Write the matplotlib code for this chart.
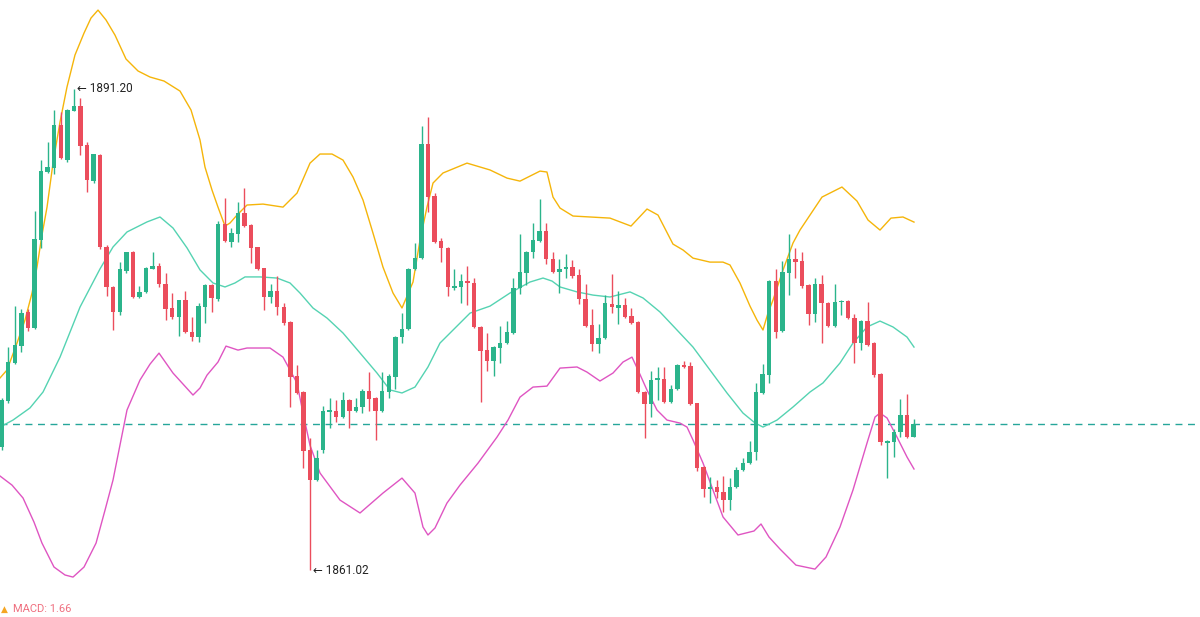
import matplotlib
matplotlib.use("Agg")
import matplotlib.pyplot as plt
import numpy as np

# ---------------- data ----------------
opens = [1868.74, 1871.63, 1874.01, 1875.07, 1877.21, 1876.20, 1881.73, 1885.99, 1886.24, 1888.94,
         1886.75, 1889.82, 1890.13, 1887.69, 1885.43, 1887.06, 1881.29, 1878.78, 1877.21, 1879.79,
         1880.98, 1878.15, 1878.47, 1879.91, 1880.10, 1878.97, 1877.46, 1876.89, 1877.96, 1875.95,
         1875.64, 1877.52, 1878.91, 1878.02, 1882.73, 1881.60, 1882.10, 1883.42, 1882.67, 1881.29,
         1879.97, 1878.15, 1878.52, 1877.52, 1876.58, 1873.19, 1872.19, 1868.55, 1866.67, 1868.55,
         1870.94, 1871.00, 1870.62, 1871.69, 1871.00, 1871.25, 1872.26, 1871.82, 1871.00, 1872.19,
         1873.13, 1875.64, 1876.14, 1879.91, 1880.60, 1887.75, 1884.49, 1881.67, 1881.23, 1878.71,
         1878.78, 1879.15, 1879.03, 1876.27, 1874.82, 1874.13, 1874.95, 1875.26, 1875.89, 1878.71,
         1879.66, 1880.98, 1881.67, 1882.29, 1880.54, 1879.72, 1879.91, 1880.04, 1879.53, 1878.02,
         1876.39, 1875.20, 1875.57, 1877.71, 1877.46, 1877.65, 1876.96, 1876.58, 1872.19, 1871.44,
         1872.95, 1873.01, 1871.56, 1872.38, 1873.88, 1873.82, 1871.50, 1867.48, 1866.10, 1866.23,
         1865.92, 1865.42, 1866.23, 1867.29, 1867.73, 1868.42, 1872.13, 1873.26, 1879.15, 1876.02,
         1879.66, 1880.54, 1880.41, 1878.91, 1877.08, 1878.97, 1877.77, 1876.33, 1877.83, 1877.90,
         1876.83, 1875.26, 1876.64, 1875.26, 1873.32, 1868.99, 1869.05, 1869.68, 1870.75, 1869.37]

highs = [1871.82, 1875.01, 1877.58, 1877.40, 1877.40, 1883.55, 1886.75, 1887.88, 1889.88, 1889.76,
         1889.95, 1891.20, 1890.63, 1887.88, 1887.15, 1887.12, 1881.42, 1878.84, 1880.35, 1881.00,
         1881.04, 1878.84, 1880.04, 1880.98, 1880.29, 1879.66, 1878.40, 1877.98, 1878.52, 1876.89,
         1877.77, 1878.97, 1878.97, 1882.92, 1884.37, 1882.48, 1884.11, 1884.99, 1882.73, 1881.29,
         1879.97, 1878.97, 1879.47, 1877.77, 1876.64, 1873.88, 1872.26, 1869.30, 1868.55, 1871.31,
         1871.82, 1871.69, 1872.19, 1871.75, 1871.82, 1872.38, 1873.44, 1871.88, 1873.44, 1873.32,
         1875.70, 1877.14, 1879.97, 1881.54, 1888.88, 1889.44, 1884.68, 1881.85, 1881.29, 1879.91,
         1879.60, 1880.10, 1879.34, 1876.33, 1875.89, 1875.07, 1876.33, 1876.64, 1879.34, 1882.10,
         1881.04, 1882.79, 1884.30, 1882.79, 1880.98, 1880.54, 1880.85, 1880.48, 1879.91, 1878.97,
         1877.40, 1876.46, 1878.27, 1879.60, 1878.52, 1878.09, 1877.46, 1876.64, 1872.26, 1873.51,
         1873.76, 1873.76, 1872.63, 1873.95, 1874.13, 1874.07, 1871.50, 1867.54, 1866.86, 1866.67,
         1866.92, 1866.80, 1867.48, 1868.05, 1869.11, 1872.76, 1873.95, 1879.22, 1879.91, 1880.41,
         1882.10, 1881.23, 1880.98, 1878.97, 1879.34, 1879.53, 1877.83, 1878.97, 1877.96, 1877.96,
         1877.08, 1876.71, 1877.83, 1875.32, 1873.38, 1869.18, 1869.87, 1871.75, 1872.07, 1870.50]

lows = [1868.55, 1871.50, 1873.95, 1874.70, 1876.02, 1876.14, 1881.23, 1885.93, 1885.87, 1886.81,
        1886.62, 1889.80, 1887.06, 1884.74, 1885.30, 1881.17, 1878.21, 1876.08, 1877.02, 1879.66,
        1878.09, 1878.09, 1878.40, 1879.88, 1878.78, 1876.71, 1876.77, 1875.70, 1875.89, 1875.39,
        1875.32, 1876.52, 1877.21, 1877.90, 1881.60, 1881.29, 1881.60, 1882.54, 1880.29, 1879.85,
        1877.33, 1877.77, 1877.02, 1876.39, 1871.25, 1872.07, 1867.42, 1861.02, 1866.61, 1868.36,
        1869.93, 1870.31, 1870.56, 1869.93, 1870.94, 1870.87, 1871.00, 1869.18, 1870.94, 1871.82,
        1872.38, 1875.26, 1876.08, 1879.85, 1880.54, 1883.49, 1881.54, 1880.35, 1878.21, 1878.59,
        1877.77, 1877.65, 1876.20, 1871.56, 1873.51, 1873.19, 1874.01, 1875.20, 1875.82, 1878.34,
        1878.91, 1880.60, 1881.60, 1880.23, 1879.66, 1878.40, 1879.34, 1879.34, 1877.71, 1876.27,
        1874.76, 1874.64, 1875.51, 1877.14, 1876.46, 1876.83, 1876.46, 1872.13, 1869.30, 1870.62,
        1871.69, 1871.50, 1871.50, 1872.32, 1873.70, 1871.37, 1867.23, 1865.60, 1865.23, 1865.54,
        1864.67, 1864.79, 1866.17, 1867.23, 1867.67, 1867.92, 1872.07, 1872.76, 1875.57, 1875.95,
        1878.27, 1879.34, 1878.71, 1876.39, 1876.58, 1875.26, 1876.27, 1876.27, 1877.02, 1876.77,
        1874.01, 1874.82, 1875.07, 1873.13, 1868.86, 1866.80, 1868.11, 1869.37, 1869.30, 1869.37]

closes = [1871.69, 1874.07, 1875.14, 1877.14, 1876.20, 1881.79, 1886.06, 1886.31, 1888.94, 1886.87,
          1889.88, 1890.13, 1887.62, 1885.49, 1887.12, 1881.29, 1878.78, 1877.21, 1879.91, 1880.98,
          1878.15, 1878.47, 1879.97, 1880.10, 1878.97, 1877.40, 1876.89, 1877.96, 1875.95, 1875.64,
          1877.58, 1878.91, 1878.09, 1882.73, 1881.67, 1882.17, 1883.42, 1882.61, 1881.23, 1879.91,
          1878.15, 1878.52, 1877.52, 1876.52, 1873.13, 1872.13, 1868.49, 1866.67, 1868.05, 1871.00,
          1871.06, 1870.62, 1871.69, 1871.00, 1871.25, 1872.26, 1871.75, 1871.00, 1872.26, 1873.19,
          1875.64, 1876.14, 1879.91, 1880.60, 1887.75, 1884.43, 1881.60, 1881.23, 1878.78, 1878.84,
          1879.15, 1879.03, 1876.27, 1874.76, 1874.13, 1875.01, 1875.26, 1875.95, 1878.71, 1879.72,
          1880.98, 1881.73, 1882.29, 1880.54, 1879.72, 1879.91, 1880.04, 1879.47, 1878.02, 1876.33,
          1875.20, 1875.57, 1877.77, 1877.52, 1877.65, 1876.89, 1876.52, 1872.19, 1871.44, 1872.95,
          1873.07, 1871.56, 1872.38, 1873.88, 1873.76, 1871.44, 1867.42, 1866.10, 1866.23, 1865.92,
          1865.42, 1866.23, 1867.29, 1867.73, 1868.42, 1872.19, 1873.32, 1879.15, 1875.95, 1879.72,
          1880.54, 1880.35, 1878.84, 1877.08, 1878.97, 1877.77, 1876.33, 1877.83, 1877.90, 1876.83,
          1875.26, 1876.64, 1875.14, 1873.26, 1869.05, 1869.11, 1869.68, 1870.75, 1869.37, 1870.18]

# Bollinger bands (bar-index position, price)
upper_x = [-0.26, 0.81, 2.33, 3.55, 4.62, 5.38, 6.14, 6.91, 7.82, 8.89, 9.95, 11.17, 12.55, 13.61, 14.68,
           15.90, 17.27, 18.95, 20.78, 22.61, 24.74, 27.18, 28.86, 30.23, 30.99, 32.06, 32.97, 34.04,
           34.80, 35.87, 37.39, 39.83, 42.88, 45.02, 47.00, 48.52, 50.35, 52.03, 53.55, 55.08, 56.60,
           58.12, 59.65, 61.02, 62.70, 63.77, 64.83, 65.75, 67.27, 70.93, 74.44, 77.03, 79.01, 82.06,
           83.12, 84.04, 85.11, 87.09, 92.73, 95.93, 98.37, 100.05, 102.33, 103.86, 105.38, 107.97,
           109.95, 111.02, 112.54, 114.07, 115.14, 116.05, 116.81, 117.58, 119.10, 120.63, 121.69,
           125.05, 128.09, 130.38, 132.06, 133.89, 135.56, 137.39, 139.07]
upper_v = [1873.07, 1873.57, 1875.26, 1876.70, 1878.40, 1880.03, 1882.04, 1883.79, 1886.55, 1889.13,
           1891.32, 1893.33, 1894.71, 1895.65, 1896.15, 1895.53, 1894.58, 1893.08, 1892.33, 1891.95,
           1891.70, 1891.07, 1889.88, 1888.00, 1886.30, 1884.86, 1883.79, 1882.60, 1882.79, 1883.29,
           1883.92, 1883.98, 1883.79, 1884.67, 1886.55, 1887.12, 1887.12, 1886.74, 1885.68, 1884.23,
           1882.16, 1880.03, 1878.40, 1877.46, 1879.09, 1881.72, 1883.79, 1885.30, 1885.93, 1886.55,
           1886.12, 1885.61, 1885.42, 1886.05, 1885.99, 1884.42, 1883.73, 1883.23, 1883.10, 1882.60,
           1883.67, 1883.29, 1881.47, 1881.10, 1880.59, 1880.34, 1880.34, 1880.16, 1879.03, 1877.58,
           1876.70, 1876.08, 1877.14, 1877.96, 1879.84, 1881.54, 1882.35, 1884.42, 1885.05, 1884.17,
           1882.98, 1882.35, 1883.10, 1883.17, 1882.85]

middle_x = [-0.26, 1.72, 4.31, 6.30, 8.89, 11.94, 14.98, 16.97, 19.10, 22.15, 24.13, 26.11, 28.25,
            30.23, 32.21, 34.04, 35.56, 37.09, 39.38, 41.97, 43.95, 45.47, 47.45, 49.59, 52.03, 54.62,
            57.21, 59.19, 61.02, 63.00, 64.98, 66.81, 69.10, 71.39, 74.44, 77.48, 80.53, 82.52, 83.89,
            85.11, 87.70, 90.14, 92.73, 95.78, 97.76, 100.35, 102.94, 105.38, 107.97, 110.56, 113.00,
            114.83, 116.05, 118.19, 120.63, 123.22, 125.20, 127.79, 129.77, 131.91, 133.89, 135.87,
            138.00, 139.07]
middle_v = [1869.99, 1870.43, 1871.19, 1872.19, 1874.38, 1877.52, 1879.91, 1881.29, 1882.23, 1882.86,
            1883.17, 1882.48, 1881.23, 1879.85, 1879.03, 1878.78, 1879.03, 1879.41, 1879.41, 1879.34,
            1879.03, 1878.40, 1877.46, 1876.83, 1875.89, 1874.64, 1873.38, 1872.32, 1872.13, 1872.50,
            1873.76, 1875.26, 1876.20, 1877.14, 1877.58, 1878.40, 1879.09, 1879.34, 1879.15, 1878.78,
            1878.47, 1878.27, 1878.15, 1878.47, 1878.09, 1877.21, 1876.08, 1875.01, 1873.57, 1872.13,
            1870.87, 1870.25, 1869.99, 1870.43, 1871.25, 1872.19, 1872.76, 1874.01, 1875.26, 1876.27,
            1876.64, 1876.27, 1875.64, 1875.01]

lower_x = [-0.26, 1.57, 3.25, 4.92, 6.14, 7.97, 9.65, 10.87, 12.55, 14.38, 15.75, 16.97, 18.03, 19.10,
           21.08, 22.61, 23.98, 26.11, 29.16, 30.23, 31.30, 32.97, 34.19, 36.02, 37.39, 40.90, 42.88,
           43.95, 45.02, 45.93, 46.99, 48.52, 51.57, 54.62, 58.12, 61.02, 63.00, 64.22, 64.98, 66.05,
           67.87, 69.86, 72.61, 75.50, 77.18, 79.01, 80.99, 83.12, 85.11, 87.70, 89.22, 91.20, 93.19,
           94.71, 96.08, 97.00, 98.37, 99.89, 101.42, 103.40, 104.47, 105.38, 106.91, 108.43, 109.96,
           112.24, 114.68, 115.75, 116.97, 118.64, 121.08, 123.98, 125.66, 127.79, 129.77, 131.91,
           133.13, 133.89, 134.96, 136.48, 138.01, 139.07]
lower_v = [1866.92, 1866.35, 1865.54, 1864.03, 1862.71, 1861.21, 1860.71, 1860.58, 1861.21, 1862.71,
           1864.78, 1866.67, 1868.86, 1871.06, 1872.94, 1873.94, 1874.63, 1873.38, 1872.00, 1872.44,
           1873.25, 1874.07, 1875.07, 1874.82, 1874.95, 1874.95, 1874.38, 1873.57, 1872.75, 1870.87,
           1868.86, 1867.11, 1865.41, 1864.60, 1865.85, 1866.79, 1865.85, 1863.72, 1863.22, 1863.66,
           1865.22, 1866.35, 1867.73, 1869.36, 1870.43, 1871.87, 1872.50, 1872.56, 1873.69, 1873.76,
           1873.44, 1872.88, 1873.38, 1874.07, 1874.38, 1873.57, 1872.31, 1871.06, 1870.43, 1870.24,
           1869.99, 1869.18, 1867.73, 1866.04, 1864.35, 1863.22, 1863.47, 1863.91, 1863.09, 1862.34,
           1861.33, 1861.08, 1861.84, 1863.72, 1866.04, 1868.99, 1870.62, 1870.87, 1870.56, 1869.36,
           1868.11, 1867.36]

high_label = "\u2190 1891.20"
low_label = "\u2190 1861.02"
macd_label = "MACD: 1.66"

# ---------------- style ----------------
UP = "#2bb48b"
DOWN = "#eb4d5c"
C_UPPER = "#f5b50a"
C_MID = "#55d3b2"
C_LOW = "#df55c2"
C_LAST = "#26a69a"

fig = plt.figure(figsize=(12, 6.17), dpi=100)
ax = fig.add_axes([0, 0, 1, 1])
ax.set_axis_off()

n = len(closes)
idx = np.arange(n)
o = np.array(opens); h = np.array(highs); l = np.array(lows); c = np.array(closes)
colors = [UP if cc >= oo else DOWN for oo, cc in zip(o, c)]

# bands
ax.plot(upper_x, upper_v, color=C_UPPER, lw=1.0, zorder=3)
ax.plot(middle_x, middle_v, color=C_MID, lw=1.0, zorder=3)
ax.plot(lower_x, lower_v, color=C_LOW, lw=1.0, zorder=3)

# candles
ax.vlines(idx, l, h, colors=colors, lw=1.0, zorder=4)
body_bottom = np.minimum(o, c)
body_h = np.maximum(np.abs(c - o), 0.08)
ax.bar(idx, body_h, bottom=body_bottom, width=0.68, color=colors, linewidth=0, zorder=5)

# last price line
ax.axhline(closes[-1], color=C_LAST, lw=1.0, ls=(0, (5, 4)), zorder=2)

# extreme labels
hi_i = int(np.argmax(h)); lo_i = int(np.argmin(l))
ax.text(hi_i + 0.55, h[hi_i], high_label, fontsize=8.5, color="#222222",
        va="center", ha="left", family=["Roboto", "DejaVu Sans"], zorder=6)
ax.text(lo_i + 0.45, l[lo_i], low_label, fontsize=8.5, color="#222222",
        va="center", ha="left", family=["Roboto", "DejaVu Sans"], zorder=6)

# pixel-aligned scales
ax.set_xlim(-0.26, 182.67)
ax.set_ylim(1858.075, 1896.783)

# MACD legend at the bottom edge (kept fully inside the picture)
fig.text(1 / 1200, 1 - 605 / 617, "\u25B2", fontsize=6.5, color="#f5a623", va="top", ha="left",
         family=["DejaVu Sans"])
fig.text(13 / 1200, 1 - 604 / 617, macd_label, fontsize=8, color="#ef6f7f", va="top", ha="left",
         family=["Roboto", "DejaVu Sans"])

fig.savefig("out.png", dpi=100, facecolor="white")
